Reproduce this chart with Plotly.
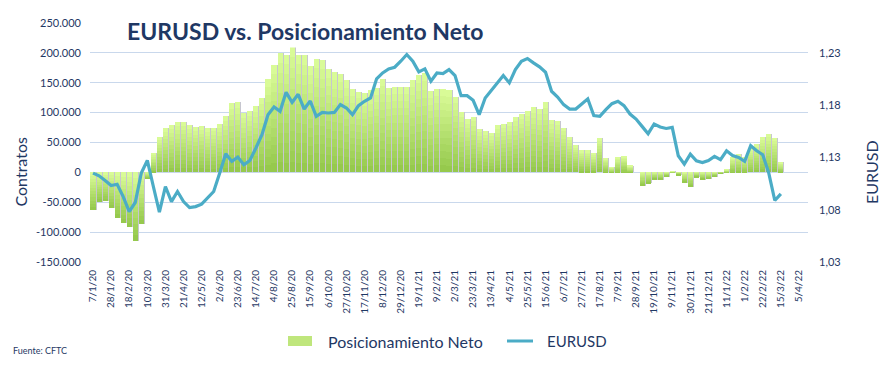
import plotly.graph_objects as go
import pandas as pd

W, H = 889, 371

# ---------------- data ----------------
week_dates = pd.date_range("2020-01-07", periods=119, freq="7D")
categories = [f"{d.day}/{d.month}/{d.year % 100}" for d in week_dates]
tick_labels = categories[::3]

net_positions = [
    -63000, -49000, -48000, -59000, -76000, -85000, -92000, -115000, -87000, -11000,
    32000, 60000, 74000, 79000, 85000, 85000, 79000, 76000, 78000, 74000,
    75000, 81000, 94000, 116000, 118000, 99000, 103000, 111000, 125000, 156000,
    180000, 199000, 197000, 210000, 197000, 196000, 178000, 190000, 188000, 173000,
    168000, 165000, 154000, 140000, 135000, 133000, 138000, 141000, 157000, 141000,
    143000, 143000, 143000, 155000, 163000, 166000, 136000, 140000, 140000, 138000,
    126000, 101000, 89000, 93000, 73000, 69000, 66000, 79000, 81000, 84000,
    93000, 98000, 103000, 109000, 106000, 118000, 88000, 86000, 75000, 59000,
    45000, 37000, 37000, 32000, 58000, 24000, 9000, 25000, 27000, 11000,
    0, -22000, -18000, -12000, -12000, -7000, 2000, -4500, -17000, -24000,
    -8000, -12000, -11000, -7000, -2000, 5000, 26000, 31000, 25000, 40000,
    47000, 59000, 64000, 58000, 17000,
]

eurusd = [
    1.1150, 1.1124, 1.1080, 1.1032, 1.1044, 1.0926, 1.0782, 1.0869, 1.1150, 1.1271,
    1.1022, 1.0776, 1.1022, 1.0878, 1.0974, 1.0878, 1.0821, 1.0830, 1.0853, 1.0910,
    1.0974, 1.1150, 1.1335, 1.1262, 1.1303, 1.1230, 1.1271, 1.1390, 1.1517, 1.1709,
    1.1782, 1.1741, 1.1923, 1.1827, 1.1904, 1.1763, 1.1840, 1.1693, 1.1731, 1.1725,
    1.1731, 1.1805, 1.1773, 1.1709, 1.1795, 1.1837, 1.1869, 1.2052, 1.2108, 1.2147,
    1.2163, 1.2220, 1.2284, 1.2220, 1.2118, 1.2147, 1.2029, 1.2108, 1.2102, 1.2140,
    1.2083, 1.1891, 1.1891, 1.1846, 1.1709, 1.1869, 1.1942, 1.2019, 1.2083, 1.2013,
    1.2140, 1.2220, 1.2246, 1.2204, 1.2166, 1.2115, 1.1933, 1.1878, 1.1805, 1.1763,
    1.1763, 1.1811, 1.1860, 1.1700, 1.1693, 1.1757, 1.1814, 1.1837, 1.1795, 1.1715,
    1.1667, 1.1597, 1.1527, 1.1620, 1.1591, 1.1577, 1.1588, 1.1316, 1.1236, 1.1332,
    1.1268, 1.1252, 1.1271, 1.1310, 1.1278, 1.1364, 1.1319, 1.1300, 1.1262, 1.1412,
    1.1364, 1.1326, 1.1150, 1.0888, 1.0952,
]

left_tickvals = [-150000, -100000, -50000, 0, 50000, 100000, 150000, 200000, 250000]
left_ticktext = ["-150.000", "-100.000", "-50.000", "0", "50.000", "100.000",
                 "150.000", "200.000", "250.000"]
right_tickvals = [1.03, 1.08, 1.13, 1.18, 1.23]
right_ticktext = ["1,03", "1,08", "1,13", "1,18", "1,23"]

# ---------------- styling ----------------
NAVY = "#1F3864"
FONT = "Lato"
LIGHT = (0xDC, 0xFD, 0x9A)
DARK = (0x93, 0xC7, 0x4A)
N_SEG = 12


def mix(a, b, t):
    return "#%02x%02x%02x" % tuple(int(round(a[i] + (b[i] - a[i]) * t)) for i in range(3))


def px(x):
    return x / W


def py(y):
    return 1 - y / H


x_data = categories[:len(net_positions)]
fig = go.Figure()

# bar shadow
fig.add_trace(go.Bar(
    x=x_data, y=net_positions, width=0.98, offset=-0.4,
    marker=dict(color="#C6C6CF", line=dict(width=0)),
    showlegend=False, hoverinfo="skip", yaxis="y",
))

# gradient bars, built in bands from each value
for k in range(N_SEG):
    bases = [v * k / N_SEG for v in net_positions]
    lens = [v / N_SEG for v in net_positions]
    t = (k + 0.5) / N_SEG
    cols = [mix(DARK, LIGHT, t) if v >= 0 else mix(LIGHT, DARK, t) for v in net_positions]
    fig.add_trace(go.Bar(
        x=x_data, y=lens, base=bases, width=0.84,
        marker=dict(color=cols, line=dict(width=0)),
        showlegend=False, hoverinfo="skip", yaxis="y",
    ))

fig.add_trace(go.Scatter(
    x=x_data, y=eurusd, mode="lines", yaxis="y2",
    line=dict(color="#4BACC6", width=3.2), showlegend=False,
))

XD = [90 / W, 808 / W]
YD = [py(262), py(23)]

fig.update_layout(
    width=W, height=H,
    margin=dict(l=0, r=0, t=0, b=0),
    paper_bgcolor="white", plot_bgcolor="white",
    barmode="overlay", bargap=0,
    font=dict(family=FONT, color=NAVY),
    showlegend=False,
    xaxis=dict(
        domain=XD, type="category", categoryorder="array", categoryarray=categories,
        range=[-0.5, len(categories) - 0.5],
        tickmode="array", tickvals=tick_labels, ticktext=tick_labels,
        tickangle=-90, tickfont=dict(size=10, color=NAVY, family=FONT),
        showgrid=False, showline=False, zeroline=False, ticks="",
        ticklabelstandoff=5, automargin=False,
    ),
    yaxis=dict(
        domain=YD, range=[-150000, 250000],
        tickmode="array", tickvals=left_tickvals, ticktext=left_ticktext,
        tickfont=dict(size=11, color=NAVY, family=FONT),
        showgrid=True, gridcolor="#C9D8EC", gridwidth=1,
        zeroline=False, showline=False, ticks="", ticklabelstandoff=8,
        automargin=False,
    ),
    yaxis2=dict(
        domain=YD, range=[1.03, 1.03 + 0.2 * 400 / 350], overlaying="y", side="right",
        tickmode="array", tickvals=right_tickvals, ticktext=right_ticktext,
        tickfont=dict(size=11, color=NAVY, family=FONT),
        showgrid=False, zeroline=False, showline=False, ticks="", ticklabelstandoff=10,
        automargin=False,
    ),
)

ann = []
ann.append(dict(text="<b>EURUSD vs. Posicionamiento Neto</b>", x=px(305), y=py(31),
                xref="paper", yref="paper", xanchor="center", yanchor="middle",
                showarrow=False, font=dict(size=23, color=NAVY, family=FONT),
                bgcolor="white", borderpad=2))
ann.append(dict(text="Contratos", x=px(19.5), y=py(172), xref="paper", yref="paper",
                xanchor="center", yanchor="middle", textangle=-90, showarrow=False,
                font=dict(size=16, color=NAVY, family=FONT)))
ann.append(dict(text="EURUSD", x=px(871), y=py(172), xref="paper", yref="paper",
                xanchor="center", yanchor="middle", textangle=-90, showarrow=False,
                font=dict(size=16, color=NAVY, family=FONT)))
ann.append(dict(text="Posicionamiento Neto", x=px(326), y=py(341), xref="paper", yref="paper",
                xanchor="left", yanchor="middle", showarrow=False,
                font=dict(size=16, color=NAVY, family=FONT)))
ann.append(dict(text="EURUSD", x=px(545), y=py(341), xref="paper", yref="paper",
                xanchor="left", yanchor="middle", showarrow=False,
                font=dict(size=15, color=NAVY, family=FONT)))
ann.append(dict(text="Fuente: CFTC", x=px(11), y=py(350), xref="paper", yref="paper",
                xanchor="left", yanchor="middle", showarrow=False,
                font=dict(size=9, color=NAVY, family=FONT)))
fig.update_layout(annotations=ann)

fig.update_layout(shapes=[
    dict(type="rect", xref="paper", yref="paper", x0=px(288), x1=px(312),
         y0=py(346), y1=py(336), fillcolor="#BFE67C", line=dict(width=0)),
    dict(type="line", xref="paper", yref="paper", x0=px(507), x1=px(533),
         y0=py(341), y1=py(341), line=dict(color="#4BACC6", width=3)),
])

fig.write_html("out.html", config={"displayModeBar": False},
               post_script="document.body.style.margin='0';document.body.style.padding='0';")
